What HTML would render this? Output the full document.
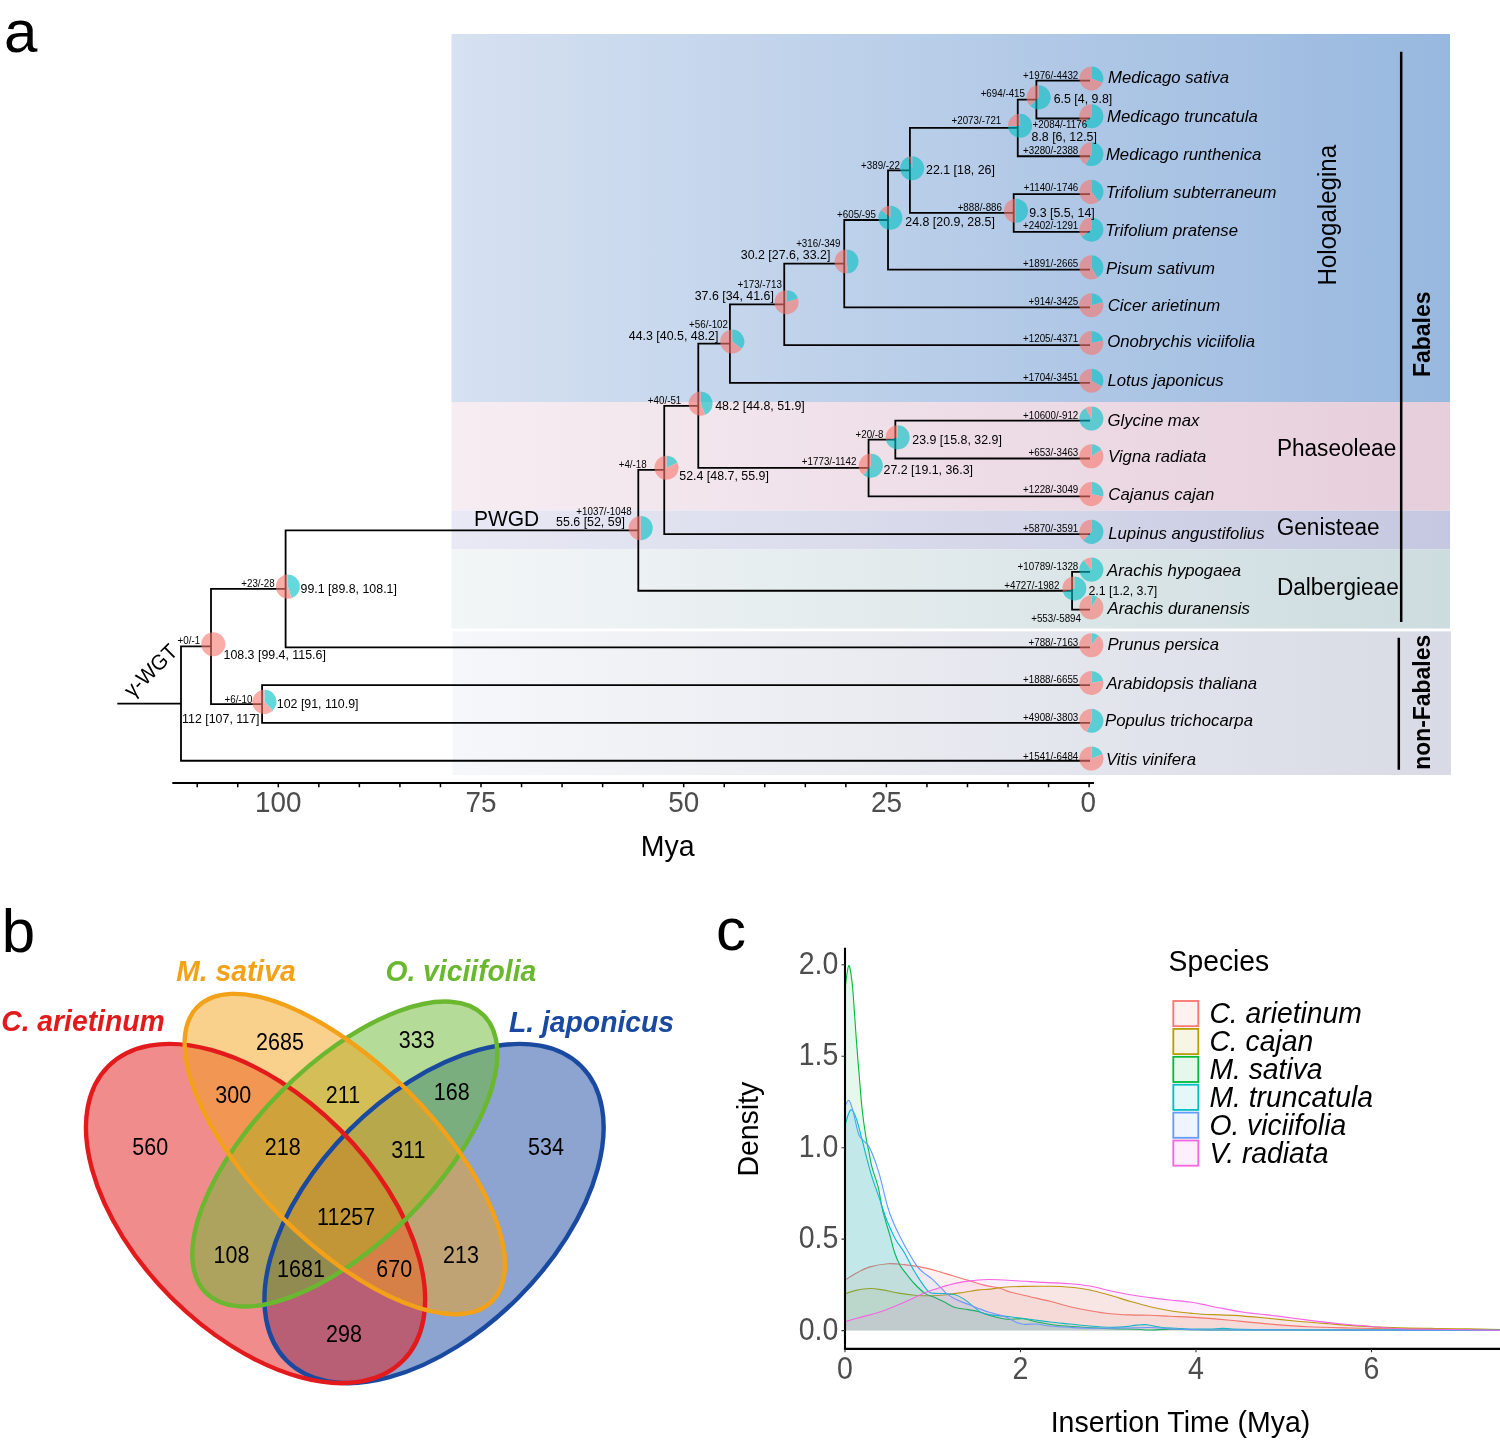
<!DOCTYPE html>
<html><head><meta charset="utf-8"><style>
html,body{margin:0;padding:0;background:#fff;width:1500px;height:1441px;overflow:hidden}
svg{display:block;font-family:"Liberation Sans", sans-serif;will-change:transform}
</style></head><body>
<svg width="1500" height="1441" viewBox="0 0 1500 1441">
<defs><linearGradient id="g0" x1="0" y1="0" x2="1" y2="0"><stop offset="0" stop-color="#d6e1f1"/><stop offset="1" stop-color="#98b8df"/></linearGradient><linearGradient id="g1" x1="0" y1="0" x2="1" y2="0"><stop offset="0" stop-color="#f6edf2"/><stop offset="1" stop-color="#e6cedb"/></linearGradient><linearGradient id="g2" x1="0" y1="0" x2="1" y2="0"><stop offset="0" stop-color="#e8e9f4"/><stop offset="1" stop-color="#c5c8e0"/></linearGradient><linearGradient id="g3" x1="0" y1="0" x2="1" y2="0"><stop offset="0" stop-color="#f3f6f7"/><stop offset="1" stop-color="#cddcdf"/></linearGradient><linearGradient id="g4" x1="0" y1="0" x2="1" y2="0"><stop offset="0" stop-color="#f6f7fa"/><stop offset="1" stop-color="#d8dbe5"/></linearGradient></defs>
<rect width="1500" height="1441" fill="#fff"/>
<rect x="451.5" y="34" width="998.5" height="368" fill="url(#g0)"/>
<rect x="451.5" y="402" width="998.5" height="108.5" fill="url(#g1)"/>
<rect x="451.5" y="510.5" width="998.5" height="39" fill="url(#g2)"/>
<rect x="451.5" y="549.5" width="998.5" height="79" fill="url(#g3)"/>
<rect x="452.5" y="631.3" width="998.5" height="143.7" fill="url(#g4)"/>
<path d="M1036.4 80.7V118.48M1036.4 80.7H1089.1M1036.4 118.48H1089.1M1017.75 99.59V156.26M1017.75 99.59H1036.4M1017.75 156.26H1089.1M1013.7 194.04V231.82M1013.7 194.04H1089.1M1013.7 231.82H1089.1M909.91 127.92V212.93M909.91 127.92H1017.75M909.91 212.93H1013.7M888.02 170.43V269.6M888.02 170.43H909.91M888.02 269.6H1089.1M844.24 220.01V307.38M844.24 220.01H888.02M844.24 307.38H1089.1M784.24 263.7V345.16M784.24 263.7H844.24M784.24 345.16H1089.1M729.92 304.43V382.94M729.92 304.43H784.24M729.92 382.94H1089.1M895.32 420.72V458.5M895.32 420.72H1089.1M895.32 458.5H1089.1M868.56 439.61V496.28M868.56 439.61H895.32M868.56 496.28H1089.1M698.29 343.68V467.95M698.29 343.68H729.92M698.29 467.95H868.56M664.24 405.81V534.06M664.24 405.81H698.29M664.24 534.06H1089.1M1072.07 571.84V609.62M1072.07 571.84H1089.1M1072.07 609.62H1089.1M638.3 469.94V590.73M638.3 469.94H664.24M638.3 590.73H1072.07M285.6 530.33V647.4M285.6 530.33H638.3M285.6 647.4H1089.1M262.08 685.18V722.96M262.08 685.18H1089.1M262.08 722.96H1089.1M211 588.87V704.07M211 588.87H285.6M211 704.07H262.08M181 646.47V760.74M181 646.47H211M181 760.74H1089.1M118.2 703.6H181" stroke="#000" stroke-width="1.8" stroke-linecap="square" fill="none"/>
<g opacity="0.6"><path d="M1091.4 78.5L1091.4 66.45A12.05 12.05 0 0 1 1102.65 82.82Z" fill="#00BFC4"/><path d="M1091.4 78.5L1102.65 82.82A12.05 12.05 0 1 1 1091.4 66.45Z" fill="#F8766D"/><path d="M1091.4 116.28L1091.4 104.23A12.05 12.05 0 1 1 1082.15 124Z" fill="#00BFC4"/><path d="M1091.4 116.28L1082.15 124A12.05 12.05 0 0 1 1091.4 104.23Z" fill="#F8766D"/><path d="M1091.4 154.06L1091.4 142.01A12.05 12.05 0 1 1 1085.68 164.67Z" fill="#00BFC4"/><path d="M1091.4 154.06L1085.68 164.67A12.05 12.05 0 0 1 1091.4 142.01Z" fill="#F8766D"/><path d="M1091.4 191.84L1091.4 179.79A12.05 12.05 0 0 1 1098.78 201.36Z" fill="#00BFC4"/><path d="M1091.4 191.84L1098.78 201.36A12.05 12.05 0 1 1 1091.4 179.79Z" fill="#F8766D"/><path d="M1091.4 229.62L1091.4 217.57A12.05 12.05 0 1 1 1081.63 236.68Z" fill="#00BFC4"/><path d="M1091.4 229.62L1081.63 236.68A12.05 12.05 0 0 1 1091.4 217.57Z" fill="#F8766D"/><path d="M1091.4 267.4L1091.4 255.35A12.05 12.05 0 0 1 1097.53 277.77Z" fill="#00BFC4"/><path d="M1091.4 267.4L1097.53 277.77A12.05 12.05 0 1 1 1091.4 255.35Z" fill="#F8766D"/><path d="M1091.4 305.18L1091.4 293.13A12.05 12.05 0 0 1 1103.08 302.23Z" fill="#00BFC4"/><path d="M1091.4 305.18L1103.08 302.23A12.05 12.05 0 1 1 1091.4 293.13Z" fill="#F8766D"/><path d="M1091.4 342.96L1091.4 330.91A12.05 12.05 0 0 1 1103.18 340.41Z" fill="#00BFC4"/><path d="M1091.4 342.96L1103.18 340.41A12.05 12.05 0 1 1 1091.4 330.91Z" fill="#F8766D"/><path d="M1091.4 380.74L1091.4 368.69A12.05 12.05 0 0 1 1101.94 386.58Z" fill="#00BFC4"/><path d="M1091.4 380.74L1101.94 386.58A12.05 12.05 0 1 1 1091.4 368.69Z" fill="#F8766D"/><path d="M1091.4 418.52L1091.4 406.47A12.05 12.05 0 1 1 1085.65 407.93Z" fill="#00BFC4"/><path d="M1091.4 418.52L1085.65 407.93A12.05 12.05 0 0 1 1091.4 406.47Z" fill="#F8766D"/><path d="M1091.4 456.3L1091.4 444.25A12.05 12.05 0 0 1 1101.52 449.76Z" fill="#00BFC4"/><path d="M1091.4 456.3L1101.52 449.76A12.05 12.05 0 1 1 1091.4 444.25Z" fill="#F8766D"/><path d="M1091.4 494.08L1091.4 482.03A12.05 12.05 0 0 1 1103.12 496.86Z" fill="#00BFC4"/><path d="M1091.4 494.08L1103.12 496.86A12.05 12.05 0 1 1 1091.4 482.03Z" fill="#F8766D"/><path d="M1091.4 531.86L1091.4 519.81A12.05 12.05 0 1 1 1083.13 540.62Z" fill="#00BFC4"/><path d="M1091.4 531.86L1083.13 540.62A12.05 12.05 0 0 1 1091.4 519.81Z" fill="#F8766D"/><path d="M1091.4 569.64L1091.4 557.59A12.05 12.05 0 1 1 1083.74 560.34Z" fill="#00BFC4"/><path d="M1091.4 569.64L1083.74 560.34A12.05 12.05 0 0 1 1091.4 557.59Z" fill="#F8766D"/><path d="M1091.4 607.42L1091.4 595.37A12.05 12.05 0 0 1 1097.58 597.08Z" fill="#00BFC4"/><path d="M1091.4 607.42L1097.58 597.08A12.05 12.05 0 1 1 1091.4 595.37Z" fill="#F8766D"/><path d="M1091.4 645.2L1091.4 633.15A12.05 12.05 0 0 1 1098.43 635.41Z" fill="#00BFC4"/><path d="M1091.4 645.2L1098.43 635.41A12.05 12.05 0 1 1 1091.4 633.15Z" fill="#F8766D"/><path d="M1091.4 682.98L1091.4 670.93A12.05 12.05 0 0 1 1103.25 680.8Z" fill="#00BFC4"/><path d="M1091.4 682.98L1103.25 680.8A12.05 12.05 0 1 1 1091.4 670.93Z" fill="#F8766D"/><path d="M1091.4 720.76L1091.4 708.71A12.05 12.05 0 1 1 1086.72 731.87Z" fill="#00BFC4"/><path d="M1091.4 720.76L1086.72 731.87A12.05 12.05 0 0 1 1091.4 708.71Z" fill="#F8766D"/><path d="M1091.4 758.54L1091.4 746.49A12.05 12.05 0 0 1 1102.66 754.25Z" fill="#00BFC4"/><path d="M1091.4 758.54L1102.66 754.25A12.05 12.05 0 1 1 1091.4 746.49Z" fill="#F8766D"/><path d="M1038.7 97.39L1038.7 85.34A12.05 12.05 0 1 1 1030.14 105.87Z" fill="#00BFC4"/><path d="M1038.7 97.39L1030.14 105.87A12.05 12.05 0 0 1 1038.7 85.34Z" fill="#F8766D"/><path d="M1020.05 125.72L1020.05 113.67A12.05 12.05 0 1 1 1008.02 126.33Z" fill="#00BFC4"/><path d="M1020.05 125.72L1008.02 126.33A12.05 12.05 0 0 1 1020.05 113.67Z" fill="#F8766D"/><path d="M1016 210.73L1016 198.68A12.05 12.05 0 1 1 1015.95 222.78Z" fill="#00BFC4"/><path d="M1016 210.73L1015.95 222.78A12.05 12.05 0 0 1 1016 198.68Z" fill="#F8766D"/><path d="M912.21 168.23L912.21 156.18A12.05 12.05 0 1 1 908.24 156.85Z" fill="#00BFC4"/><path d="M912.21 168.23L908.24 156.85A12.05 12.05 0 0 1 912.21 156.18Z" fill="#F8766D"/><path d="M890.32 217.81L890.32 205.76A12.05 12.05 0 1 1 881.25 209.89Z" fill="#00BFC4"/><path d="M890.32 217.81L881.25 209.89A12.05 12.05 0 0 1 890.32 205.76Z" fill="#F8766D"/><path d="M846.54 261.5L846.54 249.45A12.05 12.05 0 0 1 848.41 273.4Z" fill="#00BFC4"/><path d="M846.54 261.5L848.41 273.4A12.05 12.05 0 1 1 846.54 249.45Z" fill="#F8766D"/><path d="M786.54 302.23L786.54 290.18A12.05 12.05 0 0 1 797.88 298.17Z" fill="#00BFC4"/><path d="M786.54 302.23L797.88 298.17A12.05 12.05 0 1 1 786.54 290.18Z" fill="#F8766D"/><path d="M732.22 341.48L732.22 329.43A12.05 12.05 0 0 1 741.76 348.84Z" fill="#00BFC4"/><path d="M732.22 341.48L741.76 348.84A12.05 12.05 0 1 1 732.22 329.43Z" fill="#F8766D"/><path d="M897.62 437.41L897.62 425.36A12.05 12.05 0 1 1 885.87 440.09Z" fill="#00BFC4"/><path d="M897.62 437.41L885.87 440.09A12.05 12.05 0 0 1 897.62 425.36Z" fill="#F8766D"/><path d="M870.86 465.75L870.86 453.7A12.05 12.05 0 1 1 863.28 475.11Z" fill="#00BFC4"/><path d="M870.86 465.75L863.28 475.11A12.05 12.05 0 0 1 870.86 453.7Z" fill="#F8766D"/><path d="M700.59 403.61L700.59 391.56A12.05 12.05 0 0 1 705.06 414.81Z" fill="#00BFC4"/><path d="M700.59 403.61L705.06 414.81A12.05 12.05 0 1 1 700.59 391.56Z" fill="#F8766D"/><path d="M666.54 467.74L666.54 455.69A12.05 12.05 0 0 1 677.5 462.73Z" fill="#00BFC4"/><path d="M666.54 467.74L677.5 462.73A12.05 12.05 0 1 1 666.54 455.69Z" fill="#F8766D"/><path d="M1074.37 588.53L1074.37 576.48A12.05 12.05 0 1 1 1062.81 591.92Z" fill="#00BFC4"/><path d="M1074.37 588.53L1062.81 591.92A12.05 12.05 0 0 1 1074.37 576.48Z" fill="#F8766D"/><path d="M640.6 528.13L640.6 516.08A12.05 12.05 0 0 1 640.79 540.18Z" fill="#00BFC4"/><path d="M640.6 528.13L640.79 540.18A12.05 12.05 0 1 1 640.6 516.08Z" fill="#F8766D"/><path d="M287.9 586.67L287.9 574.62A12.05 12.05 0 0 1 291.55 598.15Z" fill="#00BFC4"/><path d="M287.9 586.67L291.55 598.15A12.05 12.05 0 1 1 287.9 574.62Z" fill="#F8766D"/><path d="M264.38 701.87L264.38 689.82A12.05 12.05 0 0 1 272.9 710.39Z" fill="#00BFC4"/><path d="M264.38 701.87L272.9 710.39A12.05 12.05 0 1 1 264.38 689.82Z" fill="#F8766D"/><circle cx="213.3" cy="644.27" r="12.05" fill="#F8766D"/></g>
<path d="M1401.2 51.7V622M1398.8 637.7V769.8" stroke="#000" stroke-width="2.5" fill="none"/>
<path d="M172.3 783H1094" stroke="#000" stroke-width="2.1" fill="none"/>
<path d="M1089.1 783V787.3M1048.56 783V787.3M1008.02 783V787.3M967.48 783V787.3M926.94 783V787.3M886.4 783V787.3M845.86 783V787.3M805.32 783V787.3M764.78 783V787.3M724.24 783V787.3M683.7 783V787.3M643.16 783V787.3M602.62 783V787.3M562.08 783V787.3M521.54 783V787.3M481 783V787.3M440.46 783V787.3M399.92 783V787.3M359.38 783V787.3M318.84 783V787.3M278.3 783V787.3M237.76 783V787.3M197.22 783V787.3" stroke="#000" stroke-width="1.5" fill="none"/>
<ellipse cx="434.05" cy="1213.55" rx="208.25" ry="119" transform="rotate(-45 434.05 1213.55)" fill="#1A4AA0" fill-opacity="0.5"/>
<ellipse cx="255.55" cy="1213.55" rx="208.25" ry="119" transform="rotate(-135 255.55 1213.55)" fill="#E31A1C" fill-opacity="0.5"/>
<ellipse cx="344.8" cy="1154.05" rx="196.35" ry="89.25" transform="rotate(-45 344.8 1154.05)" fill="#6AB730" fill-opacity="0.5"/>
<ellipse cx="344.8" cy="1154.05" rx="208.25" ry="89.25" transform="rotate(-135 344.8 1154.05)" fill="#F3A119" fill-opacity="0.5"/>
<ellipse cx="434.05" cy="1213.55" rx="208.25" ry="119" transform="rotate(-45 434.05 1213.55)" fill="none" stroke="#1A4AA0" stroke-width="4.4"/>
<ellipse cx="255.55" cy="1213.55" rx="208.25" ry="119" transform="rotate(-135 255.55 1213.55)" fill="none" stroke="#E31A1C" stroke-width="4.4"/>
<ellipse cx="344.8" cy="1154.05" rx="196.35" ry="89.25" transform="rotate(-45 344.8 1154.05)" fill="none" stroke="#6AB730" stroke-width="4.4"/>
<ellipse cx="344.8" cy="1154.05" rx="208.25" ry="89.25" transform="rotate(-135 344.8 1154.05)" fill="none" stroke="#F3A119" stroke-width="4.4"/>
<clipPath id="dclip"><rect x="845" y="900" width="655" height="431"/></clipPath>
<g clip-path="url(#dclip)"><path d="M845 1280.2C846.83 1279.05 851.85 1275.52 856 1273.3C860.15 1271.08 864.57 1268.5 869.9 1266.9C875.23 1265.3 882.32 1264.08 888 1263.7C893.68 1263.32 898.67 1264.07 904 1264.6C909.33 1265.13 914.67 1265.88 920 1266.9C925.33 1267.92 930.67 1269.27 936 1270.7C941.33 1272.13 946.67 1273.9 952 1275.5C957.33 1277.1 962.67 1278.7 968 1280.3C973.33 1281.9 978.67 1283.77 984 1285.1C989.33 1286.43 995.67 1287.15 1000 1288.3C1004.33 1289.45 1005 1290.6 1010 1292C1015 1293.4 1023.33 1295.15 1030 1296.7C1036.67 1298.25 1043.33 1299.63 1050 1301.3C1056.67 1302.97 1063.33 1305.13 1070 1306.7C1076.67 1308.27 1083.33 1309.53 1090 1310.7C1096.67 1311.87 1103.33 1313 1110 1313.7C1116.67 1314.4 1123.33 1314.63 1130 1314.9C1136.67 1315.17 1143.33 1315.07 1150 1315.3C1156.67 1315.53 1163.33 1316 1170 1316.3C1176.67 1316.6 1183 1316.72 1190 1317.1C1197 1317.48 1203 1317.85 1212 1318.6C1221 1319.35 1233.33 1320.6 1244 1321.6C1254.67 1322.6 1265.33 1323.75 1276 1324.6C1286.67 1325.45 1295.55 1326.13 1308 1326.7C1320.45 1327.27 1336.48 1327.63 1350.7 1328C1364.92 1328.37 1379.08 1328.65 1393.3 1328.9C1407.52 1329.15 1418.22 1329.32 1436 1329.5C1453.78 1329.68 1489.33 1329.92 1500 1330L1500 1330.6L845 1330.6Z" fill="#F8766D" fill-opacity="0.1"/><path d="M845 1280.2C846.83 1279.05 851.85 1275.52 856 1273.3C860.15 1271.08 864.57 1268.5 869.9 1266.9C875.23 1265.3 882.32 1264.08 888 1263.7C893.68 1263.32 898.67 1264.07 904 1264.6C909.33 1265.13 914.67 1265.88 920 1266.9C925.33 1267.92 930.67 1269.27 936 1270.7C941.33 1272.13 946.67 1273.9 952 1275.5C957.33 1277.1 962.67 1278.7 968 1280.3C973.33 1281.9 978.67 1283.77 984 1285.1C989.33 1286.43 995.67 1287.15 1000 1288.3C1004.33 1289.45 1005 1290.6 1010 1292C1015 1293.4 1023.33 1295.15 1030 1296.7C1036.67 1298.25 1043.33 1299.63 1050 1301.3C1056.67 1302.97 1063.33 1305.13 1070 1306.7C1076.67 1308.27 1083.33 1309.53 1090 1310.7C1096.67 1311.87 1103.33 1313 1110 1313.7C1116.67 1314.4 1123.33 1314.63 1130 1314.9C1136.67 1315.17 1143.33 1315.07 1150 1315.3C1156.67 1315.53 1163.33 1316 1170 1316.3C1176.67 1316.6 1183 1316.72 1190 1317.1C1197 1317.48 1203 1317.85 1212 1318.6C1221 1319.35 1233.33 1320.6 1244 1321.6C1254.67 1322.6 1265.33 1323.75 1276 1324.6C1286.67 1325.45 1295.55 1326.13 1308 1326.7C1320.45 1327.27 1336.48 1327.63 1350.7 1328C1364.92 1328.37 1379.08 1328.65 1393.3 1328.9C1407.52 1329.15 1418.22 1329.32 1436 1329.5C1453.78 1329.68 1489.33 1329.92 1500 1330" fill="none" stroke="#F8766D" stroke-width="1.1"/><path d="M845 1293.8C846.83 1293.23 851.85 1291.28 856 1290.4C860.15 1289.52 865.45 1288.58 869.9 1288.5C874.35 1288.42 877.9 1289.13 882.7 1289.9C887.5 1290.67 893.37 1292.22 898.7 1293.1C904.03 1293.98 909.37 1294.77 914.7 1295.2C920.03 1295.63 925.37 1295.78 930.7 1295.7C936.03 1295.62 941.37 1295.23 946.7 1294.7C952.03 1294.17 957.37 1293.3 962.7 1292.5C968.03 1291.7 974.15 1290.47 978.7 1289.9C983.25 1289.33 985.9 1289.53 990 1289.1C994.1 1288.67 997.75 1287.75 1003.3 1287.3C1008.85 1286.85 1015.52 1286.57 1023.3 1286.4C1031.08 1286.23 1042.22 1286.15 1050 1286.3C1057.78 1286.45 1063.33 1286.68 1070 1287.3C1076.67 1287.92 1083.33 1288.67 1090 1290C1096.67 1291.33 1103.33 1293.42 1110 1295.3C1116.67 1297.18 1123.33 1299.4 1130 1301.3C1136.67 1303.2 1143.33 1305.13 1150 1306.7C1156.67 1308.27 1163.33 1309.63 1170 1310.7C1176.67 1311.77 1184.78 1312.52 1190 1313.1C1195.22 1313.68 1194.08 1313.82 1201.3 1314.2C1208.52 1314.58 1222.63 1314.77 1233.3 1315.4C1243.97 1316.03 1254.63 1317.03 1265.3 1318C1275.97 1318.97 1286.63 1320.23 1297.3 1321.2C1307.97 1322.17 1318.63 1322.98 1329.3 1323.8C1339.97 1324.62 1350.63 1325.47 1361.3 1326.1C1371.97 1326.73 1380.85 1327.2 1393.3 1327.6C1405.75 1328 1423.55 1328.28 1436 1328.5C1448.45 1328.72 1457.33 1328.73 1468 1328.9C1478.67 1329.07 1494.67 1329.4 1500 1329.5L1500 1330.6L845 1330.6Z" fill="#B79F00" fill-opacity="0.1"/><path d="M845 1293.8C846.83 1293.23 851.85 1291.28 856 1290.4C860.15 1289.52 865.45 1288.58 869.9 1288.5C874.35 1288.42 877.9 1289.13 882.7 1289.9C887.5 1290.67 893.37 1292.22 898.7 1293.1C904.03 1293.98 909.37 1294.77 914.7 1295.2C920.03 1295.63 925.37 1295.78 930.7 1295.7C936.03 1295.62 941.37 1295.23 946.7 1294.7C952.03 1294.17 957.37 1293.3 962.7 1292.5C968.03 1291.7 974.15 1290.47 978.7 1289.9C983.25 1289.33 985.9 1289.53 990 1289.1C994.1 1288.67 997.75 1287.75 1003.3 1287.3C1008.85 1286.85 1015.52 1286.57 1023.3 1286.4C1031.08 1286.23 1042.22 1286.15 1050 1286.3C1057.78 1286.45 1063.33 1286.68 1070 1287.3C1076.67 1287.92 1083.33 1288.67 1090 1290C1096.67 1291.33 1103.33 1293.42 1110 1295.3C1116.67 1297.18 1123.33 1299.4 1130 1301.3C1136.67 1303.2 1143.33 1305.13 1150 1306.7C1156.67 1308.27 1163.33 1309.63 1170 1310.7C1176.67 1311.77 1184.78 1312.52 1190 1313.1C1195.22 1313.68 1194.08 1313.82 1201.3 1314.2C1208.52 1314.58 1222.63 1314.77 1233.3 1315.4C1243.97 1316.03 1254.63 1317.03 1265.3 1318C1275.97 1318.97 1286.63 1320.23 1297.3 1321.2C1307.97 1322.17 1318.63 1322.98 1329.3 1323.8C1339.97 1324.62 1350.63 1325.47 1361.3 1326.1C1371.97 1326.73 1380.85 1327.2 1393.3 1327.6C1405.75 1328 1423.55 1328.28 1436 1328.5C1448.45 1328.72 1457.33 1328.73 1468 1328.9C1478.67 1329.07 1494.67 1329.4 1500 1329.5" fill="none" stroke="#B79F00" stroke-width="1.1"/><path d="M845 988.9C845.62 985.02 847.5 966.53 848.7 965.6C849.9 964.67 851.25 975.53 852.2 983.3C853.15 991.07 853.65 1002.02 854.4 1012.2C855.15 1022.38 855.87 1033.47 856.7 1044.4C857.53 1055.33 858.48 1066.87 859.4 1077.8C860.32 1088.73 861.07 1099.87 862.2 1110C863.33 1120.13 865.13 1131.9 866.2 1138.6C867.27 1145.3 867.62 1145.35 868.6 1150.2C869.58 1155.05 870.5 1161.53 872.1 1167.7C873.7 1173.87 876.58 1180.72 878.2 1187.2C879.82 1193.68 880.62 1201.13 881.8 1206.6C882.98 1212.07 883.92 1215.1 885.3 1220C886.68 1224.9 888.58 1230.67 890.1 1236C891.62 1241.33 892.8 1247.2 894.4 1252C896 1256.8 897.92 1261.42 899.7 1264.8C901.48 1268.18 902.6 1269.1 905.1 1272.3C907.6 1275.5 911.33 1280.45 914.7 1284C918.07 1287.55 921.75 1291.28 925.3 1293.6C928.85 1295.92 932.8 1296.48 936 1297.9C939.2 1299.32 941.3 1300.5 944.5 1302.1C947.7 1303.7 951.28 1306.25 955.2 1307.5C959.12 1308.75 964.08 1308.9 968 1309.6C971.92 1310.3 974.78 1310.63 978.7 1311.7C982.62 1312.77 987.4 1314.83 991.5 1316C995.6 1317.17 1000.22 1318.15 1003.3 1318.7C1006.38 1319.25 1006.67 1319.3 1010 1319.3C1013.33 1319.3 1018.85 1318.25 1023.3 1318.7C1027.75 1319.15 1031.13 1320.9 1036.7 1322C1042.27 1323.1 1048.93 1324.42 1056.7 1325.3C1064.47 1326.18 1074.42 1326.73 1083.3 1327.3C1092.18 1327.87 1101.1 1328.37 1110 1328.7C1118.9 1329.03 1130.03 1329.08 1136.7 1329.3C1143.37 1329.52 1144.45 1330.03 1150 1330C1155.55 1329.97 1163.33 1329.17 1170 1329.1C1176.67 1329.03 1176.67 1329.45 1190 1329.6C1203.33 1329.75 1198.33 1329.88 1250 1330C1301.67 1330.12 1458.33 1330.25 1500 1330.3L1500 1330.6L845 1330.6Z" fill="#00BA38" fill-opacity="0.1"/><path d="M845 988.9C845.62 985.02 847.5 966.53 848.7 965.6C849.9 964.67 851.25 975.53 852.2 983.3C853.15 991.07 853.65 1002.02 854.4 1012.2C855.15 1022.38 855.87 1033.47 856.7 1044.4C857.53 1055.33 858.48 1066.87 859.4 1077.8C860.32 1088.73 861.07 1099.87 862.2 1110C863.33 1120.13 865.13 1131.9 866.2 1138.6C867.27 1145.3 867.62 1145.35 868.6 1150.2C869.58 1155.05 870.5 1161.53 872.1 1167.7C873.7 1173.87 876.58 1180.72 878.2 1187.2C879.82 1193.68 880.62 1201.13 881.8 1206.6C882.98 1212.07 883.92 1215.1 885.3 1220C886.68 1224.9 888.58 1230.67 890.1 1236C891.62 1241.33 892.8 1247.2 894.4 1252C896 1256.8 897.92 1261.42 899.7 1264.8C901.48 1268.18 902.6 1269.1 905.1 1272.3C907.6 1275.5 911.33 1280.45 914.7 1284C918.07 1287.55 921.75 1291.28 925.3 1293.6C928.85 1295.92 932.8 1296.48 936 1297.9C939.2 1299.32 941.3 1300.5 944.5 1302.1C947.7 1303.7 951.28 1306.25 955.2 1307.5C959.12 1308.75 964.08 1308.9 968 1309.6C971.92 1310.3 974.78 1310.63 978.7 1311.7C982.62 1312.77 987.4 1314.83 991.5 1316C995.6 1317.17 1000.22 1318.15 1003.3 1318.7C1006.38 1319.25 1006.67 1319.3 1010 1319.3C1013.33 1319.3 1018.85 1318.25 1023.3 1318.7C1027.75 1319.15 1031.13 1320.9 1036.7 1322C1042.27 1323.1 1048.93 1324.42 1056.7 1325.3C1064.47 1326.18 1074.42 1326.73 1083.3 1327.3C1092.18 1327.87 1101.1 1328.37 1110 1328.7C1118.9 1329.03 1130.03 1329.08 1136.7 1329.3C1143.37 1329.52 1144.45 1330.03 1150 1330C1155.55 1329.97 1163.33 1329.17 1170 1329.1C1176.67 1329.03 1176.67 1329.45 1190 1329.6C1203.33 1329.75 1198.33 1329.88 1250 1330C1301.67 1330.12 1458.33 1330.25 1500 1330.3" fill="none" stroke="#00BA38" stroke-width="1.1"/><path d="M845 1125.5C845.58 1123.58 847.38 1116.6 848.5 1114C849.62 1111.4 850.37 1109.05 851.7 1109.9C853.03 1110.75 854.73 1114 856.5 1119.1C858.27 1124.2 860.68 1134.35 862.3 1140.5C863.92 1146.65 864.57 1149.85 866.2 1156C867.83 1162.15 869.98 1170.58 872.1 1177.4C874.22 1184.22 876.97 1191.23 878.9 1196.9C880.83 1202.57 882.27 1207.22 883.7 1211.4C885.13 1215.58 885.53 1217.37 887.5 1222C889.47 1226.63 892.75 1234.2 895.5 1239.2C898.25 1244.2 901.17 1247.2 904 1252C906.83 1256.8 909.65 1263.02 912.5 1268C915.35 1272.98 918.43 1277.98 921.1 1281.9C923.77 1285.82 926.37 1289.58 928.5 1291.5C930.63 1293.42 930.87 1293.05 933.9 1293.4C936.93 1293.75 943.15 1293.38 946.7 1293.6C950.25 1293.82 952.37 1293.82 955.2 1294.7C958.03 1295.58 960.68 1296.95 963.7 1298.9C966.72 1300.85 970.27 1304.08 973.3 1306.4C976.33 1308.72 978.87 1311.38 981.9 1312.8C984.93 1314.22 986.82 1314.25 991.5 1314.9C996.18 1315.55 1003.58 1315.97 1010 1316.7C1016.42 1317.43 1023.33 1318.42 1030 1319.3C1036.67 1320.18 1043.33 1321.22 1050 1322C1056.67 1322.78 1063.33 1323.33 1070 1324C1076.67 1324.67 1083.33 1325.45 1090 1326C1096.67 1326.55 1104.45 1327.15 1110 1327.3C1115.55 1327.45 1118.85 1327.27 1123.3 1326.9C1127.75 1326.53 1132.7 1325.47 1136.7 1325.1C1140.7 1324.73 1143.3 1324.33 1147.3 1324.7C1151.3 1325.07 1155.8 1326.7 1160.7 1327.3C1165.6 1327.9 1171.82 1328 1176.7 1328.3C1181.58 1328.6 1184.45 1328.98 1190 1329.1C1195.55 1329.22 1204.55 1329.12 1210 1329C1215.45 1328.88 1217.7 1328.35 1222.7 1328.4C1227.7 1328.45 1227.12 1329.07 1240 1329.3C1252.88 1329.53 1256.67 1329.63 1300 1329.8C1343.33 1329.97 1466.67 1330.22 1500 1330.3L1500 1330.6L845 1330.6Z" fill="#00BFC4" fill-opacity="0.1"/><path d="M845 1125.5C845.58 1123.58 847.38 1116.6 848.5 1114C849.62 1111.4 850.37 1109.05 851.7 1109.9C853.03 1110.75 854.73 1114 856.5 1119.1C858.27 1124.2 860.68 1134.35 862.3 1140.5C863.92 1146.65 864.57 1149.85 866.2 1156C867.83 1162.15 869.98 1170.58 872.1 1177.4C874.22 1184.22 876.97 1191.23 878.9 1196.9C880.83 1202.57 882.27 1207.22 883.7 1211.4C885.13 1215.58 885.53 1217.37 887.5 1222C889.47 1226.63 892.75 1234.2 895.5 1239.2C898.25 1244.2 901.17 1247.2 904 1252C906.83 1256.8 909.65 1263.02 912.5 1268C915.35 1272.98 918.43 1277.98 921.1 1281.9C923.77 1285.82 926.37 1289.58 928.5 1291.5C930.63 1293.42 930.87 1293.05 933.9 1293.4C936.93 1293.75 943.15 1293.38 946.7 1293.6C950.25 1293.82 952.37 1293.82 955.2 1294.7C958.03 1295.58 960.68 1296.95 963.7 1298.9C966.72 1300.85 970.27 1304.08 973.3 1306.4C976.33 1308.72 978.87 1311.38 981.9 1312.8C984.93 1314.22 986.82 1314.25 991.5 1314.9C996.18 1315.55 1003.58 1315.97 1010 1316.7C1016.42 1317.43 1023.33 1318.42 1030 1319.3C1036.67 1320.18 1043.33 1321.22 1050 1322C1056.67 1322.78 1063.33 1323.33 1070 1324C1076.67 1324.67 1083.33 1325.45 1090 1326C1096.67 1326.55 1104.45 1327.15 1110 1327.3C1115.55 1327.45 1118.85 1327.27 1123.3 1326.9C1127.75 1326.53 1132.7 1325.47 1136.7 1325.1C1140.7 1324.73 1143.3 1324.33 1147.3 1324.7C1151.3 1325.07 1155.8 1326.7 1160.7 1327.3C1165.6 1327.9 1171.82 1328 1176.7 1328.3C1181.58 1328.6 1184.45 1328.98 1190 1329.1C1195.55 1329.22 1204.55 1329.12 1210 1329C1215.45 1328.88 1217.7 1328.35 1222.7 1328.4C1227.7 1328.45 1227.12 1329.07 1240 1329.3C1252.88 1329.53 1256.67 1329.63 1300 1329.8C1343.33 1329.97 1466.67 1330.22 1500 1330.3" fill="none" stroke="#00BFC4" stroke-width="1.1"/><path d="M845 1106.5C845.62 1105.45 847.43 1099.72 848.7 1100.2C849.97 1100.68 850.97 1103.82 852.6 1109.4C854.23 1114.98 856.72 1128.52 858.5 1133.7C860.28 1138.88 861.68 1138.55 863.3 1140.5C864.92 1142.45 866.42 1142.48 868.2 1145.4C869.98 1148.32 872.22 1153.47 874 1158C875.78 1162.53 877.45 1167.73 878.9 1172.6C880.35 1177.47 881.25 1181.53 882.7 1187.2C884.15 1192.87 886 1201.13 887.6 1206.6C889.2 1212.07 890.28 1215.1 892.3 1220C894.32 1224.9 897.03 1230.67 899.7 1236C902.37 1241.33 905.45 1247.02 908.3 1252C911.15 1256.98 914.32 1262.52 916.8 1265.9C919.28 1269.28 920.72 1270.17 923.2 1272.3C925.68 1274.43 928.85 1276.22 931.7 1278.7C934.55 1281.18 937.8 1284.72 940.3 1287.2C942.8 1289.68 944.22 1291.65 946.7 1293.6C949.18 1295.55 951.65 1297.12 955.2 1298.9C958.75 1300.68 964.08 1302.7 968 1304.3C971.92 1305.9 975.15 1307.17 978.7 1308.5C982.25 1309.83 985.2 1311.05 989.3 1312.3C993.4 1313.55 998.73 1314.32 1003.3 1316C1007.87 1317.68 1013.37 1321.02 1016.7 1322.4C1020.03 1323.78 1019.97 1324.03 1023.3 1324.3C1026.63 1324.57 1032.25 1323.72 1036.7 1324C1041.15 1324.28 1044.45 1325.45 1050 1326C1055.55 1326.55 1062.22 1326.92 1070 1327.3C1077.78 1327.68 1087.82 1328.18 1096.7 1328.3C1105.58 1328.42 1114.42 1328.13 1123.3 1328C1132.18 1327.87 1142.22 1327.38 1150 1327.5C1157.78 1327.62 1163.33 1328.35 1170 1328.7C1176.67 1329.05 1176.67 1329.38 1190 1329.6C1203.33 1329.82 1198.33 1329.88 1250 1330C1301.67 1330.12 1458.33 1330.25 1500 1330.3L1500 1330.6L845 1330.6Z" fill="#619CFF" fill-opacity="0.1"/><path d="M845 1106.5C845.62 1105.45 847.43 1099.72 848.7 1100.2C849.97 1100.68 850.97 1103.82 852.6 1109.4C854.23 1114.98 856.72 1128.52 858.5 1133.7C860.28 1138.88 861.68 1138.55 863.3 1140.5C864.92 1142.45 866.42 1142.48 868.2 1145.4C869.98 1148.32 872.22 1153.47 874 1158C875.78 1162.53 877.45 1167.73 878.9 1172.6C880.35 1177.47 881.25 1181.53 882.7 1187.2C884.15 1192.87 886 1201.13 887.6 1206.6C889.2 1212.07 890.28 1215.1 892.3 1220C894.32 1224.9 897.03 1230.67 899.7 1236C902.37 1241.33 905.45 1247.02 908.3 1252C911.15 1256.98 914.32 1262.52 916.8 1265.9C919.28 1269.28 920.72 1270.17 923.2 1272.3C925.68 1274.43 928.85 1276.22 931.7 1278.7C934.55 1281.18 937.8 1284.72 940.3 1287.2C942.8 1289.68 944.22 1291.65 946.7 1293.6C949.18 1295.55 951.65 1297.12 955.2 1298.9C958.75 1300.68 964.08 1302.7 968 1304.3C971.92 1305.9 975.15 1307.17 978.7 1308.5C982.25 1309.83 985.2 1311.05 989.3 1312.3C993.4 1313.55 998.73 1314.32 1003.3 1316C1007.87 1317.68 1013.37 1321.02 1016.7 1322.4C1020.03 1323.78 1019.97 1324.03 1023.3 1324.3C1026.63 1324.57 1032.25 1323.72 1036.7 1324C1041.15 1324.28 1044.45 1325.45 1050 1326C1055.55 1326.55 1062.22 1326.92 1070 1327.3C1077.78 1327.68 1087.82 1328.18 1096.7 1328.3C1105.58 1328.42 1114.42 1328.13 1123.3 1328C1132.18 1327.87 1142.22 1327.38 1150 1327.5C1157.78 1327.62 1163.33 1328.35 1170 1328.7C1176.67 1329.05 1176.67 1329.38 1190 1329.6C1203.33 1329.82 1198.33 1329.88 1250 1330C1301.67 1330.12 1458.33 1330.25 1500 1330.3" fill="none" stroke="#619CFF" stroke-width="1.1"/><path d="M845 1321.6C847.72 1320.85 855.92 1318.57 861.3 1317.1C866.68 1315.63 871.97 1314.5 877.3 1312.8C882.63 1311.1 887.97 1309.03 893.3 1306.9C898.63 1304.77 903.97 1302.4 909.3 1300C914.63 1297.6 919.97 1294.63 925.3 1292.5C930.63 1290.37 935.97 1288.8 941.3 1287.2C946.63 1285.6 951.97 1284 957.3 1282.9C962.63 1281.8 967.97 1281.17 973.3 1280.6C978.63 1280.03 982.07 1279.48 989.3 1279.5C996.53 1279.52 1007.7 1280.22 1016.7 1280.7C1025.7 1281.18 1034.42 1281.9 1043.3 1282.4C1052.18 1282.9 1062.22 1283.1 1070 1283.7C1077.78 1284.3 1083.33 1284.83 1090 1286C1096.67 1287.17 1103.33 1289.25 1110 1290.7C1116.67 1292.15 1123.33 1293.55 1130 1294.7C1136.67 1295.85 1143.33 1296.72 1150 1297.6C1156.67 1298.48 1163.33 1299.27 1170 1300C1176.67 1300.73 1184.78 1301.32 1190 1302C1195.22 1302.68 1195.85 1303.03 1201.3 1304.1C1206.75 1305.17 1215.58 1307.05 1222.7 1308.4C1229.82 1309.75 1235.12 1310.95 1244 1312.2C1252.88 1313.45 1265.33 1314.58 1276 1315.9C1286.67 1317.22 1297.33 1318.78 1308 1320.1C1318.67 1321.42 1329.33 1322.73 1340 1323.8C1350.67 1324.87 1361.33 1325.68 1372 1326.5C1382.67 1327.32 1393.33 1328.23 1404 1328.7C1414.67 1329.17 1420 1329.05 1436 1329.3C1452 1329.55 1489.33 1330.05 1500 1330.2L1500 1330.6L845 1330.6Z" fill="#F564E3" fill-opacity="0.1"/><path d="M845 1321.6C847.72 1320.85 855.92 1318.57 861.3 1317.1C866.68 1315.63 871.97 1314.5 877.3 1312.8C882.63 1311.1 887.97 1309.03 893.3 1306.9C898.63 1304.77 903.97 1302.4 909.3 1300C914.63 1297.6 919.97 1294.63 925.3 1292.5C930.63 1290.37 935.97 1288.8 941.3 1287.2C946.63 1285.6 951.97 1284 957.3 1282.9C962.63 1281.8 967.97 1281.17 973.3 1280.6C978.63 1280.03 982.07 1279.48 989.3 1279.5C996.53 1279.52 1007.7 1280.22 1016.7 1280.7C1025.7 1281.18 1034.42 1281.9 1043.3 1282.4C1052.18 1282.9 1062.22 1283.1 1070 1283.7C1077.78 1284.3 1083.33 1284.83 1090 1286C1096.67 1287.17 1103.33 1289.25 1110 1290.7C1116.67 1292.15 1123.33 1293.55 1130 1294.7C1136.67 1295.85 1143.33 1296.72 1150 1297.6C1156.67 1298.48 1163.33 1299.27 1170 1300C1176.67 1300.73 1184.78 1301.32 1190 1302C1195.22 1302.68 1195.85 1303.03 1201.3 1304.1C1206.75 1305.17 1215.58 1307.05 1222.7 1308.4C1229.82 1309.75 1235.12 1310.95 1244 1312.2C1252.88 1313.45 1265.33 1314.58 1276 1315.9C1286.67 1317.22 1297.33 1318.78 1308 1320.1C1318.67 1321.42 1329.33 1322.73 1340 1323.8C1350.67 1324.87 1361.33 1325.68 1372 1326.5C1382.67 1327.32 1393.33 1328.23 1404 1328.7C1414.67 1329.17 1420 1329.05 1436 1329.3C1452 1329.55 1489.33 1330.05 1500 1330.2" fill="none" stroke="#F564E3" stroke-width="1.1"/></g>
<path d="M845 947.7V1350M843.9 1348.9H1500" stroke="#000" stroke-width="2.1" fill="none"/>
<path d="M841.5 1330.6H845M841.5 1239.15H845M841.5 1147.7H845M841.5 1056.25H845M841.5 964.8H845M845 1348.9V1352.2M1020.5 1348.9V1352.2M1196 1348.9V1352.2M1371.5 1348.9V1352.2" stroke="#333" stroke-width="1.1" fill="none"/>
<rect x="1173.3" y="1001" width="25" height="25.2" fill="#F8766D" fill-opacity="0.1" stroke="#F8766D" stroke-width="1.8"/>
<rect x="1173.3" y="1028.9" width="25" height="25.2" fill="#B79F00" fill-opacity="0.1" stroke="#B79F00" stroke-width="1.8"/>
<rect x="1173.3" y="1056.8" width="25" height="25.2" fill="#00BA38" fill-opacity="0.1" stroke="#00BA38" stroke-width="1.8"/>
<rect x="1173.3" y="1084.7" width="25" height="25.2" fill="#00BFC4" fill-opacity="0.1" stroke="#00BFC4" stroke-width="1.8"/>
<rect x="1173.3" y="1112.6" width="25" height="25.2" fill="#619CFF" fill-opacity="0.1" stroke="#619CFF" stroke-width="1.8"/>
<rect x="1173.3" y="1140.5" width="25" height="25.2" fill="#F564E3" fill-opacity="0.1" stroke="#F564E3" stroke-width="1.8"/>
<g font-family='"Liberation Sans", sans-serif'><text transform="translate(1108 83.1) scale(1 1.04)" style="font-size:16.75px;font-style:italic">Medicago sativa</text><text transform="translate(1078.3 78.9) scale(1 1.08)" text-anchor="end" style="font-size:9.8px">+1976/-4432</text><text transform="translate(1107 121.5) scale(1 1.04)" style="font-size:16.75px;font-style:italic">Medicago truncatula</text><text transform="translate(1032.6 128) scale(1 1.08)" style="font-size:9.8px">+2084/-1176</text><text transform="translate(1105.9 160.3) scale(1 1.04)" style="font-size:16.75px;font-style:italic">Medicago runthenica</text><text transform="translate(1078.3 153.76) scale(1 1.08)" text-anchor="end" style="font-size:9.8px">+3280/-2388</text><text transform="translate(1105.7 197.8) scale(1 1.04)" style="font-size:16.75px;font-style:italic">Trifolium subterraneum</text><text transform="translate(1078.3 191.14) scale(1 1.08)" text-anchor="end" style="font-size:9.8px">+1140/-1746</text><text transform="translate(1105.3 236.1) scale(1 1.04)" style="font-size:16.75px;font-style:italic">Trifolium pratense</text><text transform="translate(1078.3 229.22) scale(1 1.08)" text-anchor="end" style="font-size:9.8px">+2402/-1291</text><text transform="translate(1106.1 273.5) scale(1 1.04)" style="font-size:16.75px;font-style:italic">Pisum sativum</text><text transform="translate(1078.3 266.9) scale(1 1.08)" text-anchor="end" style="font-size:9.8px">+1891/-2665</text><text transform="translate(1107.7 310.5) scale(1 1.04)" style="font-size:16.75px;font-style:italic">Cicer arietinum</text><text transform="translate(1078.3 304.78) scale(1 1.08)" text-anchor="end" style="font-size:9.8px">+914/-3425</text><text transform="translate(1107.2 347.3) scale(1 1.04)" style="font-size:16.75px;font-style:italic">Onobrychis viciifolia</text><text transform="translate(1078.3 341.96) scale(1 1.08)" text-anchor="end" style="font-size:9.8px">+1205/-4371</text><text transform="translate(1107.4 386.2) scale(1 1.04)" style="font-size:16.75px;font-style:italic">Lotus japonicus</text><text transform="translate(1078.3 380.74) scale(1 1.08)" text-anchor="end" style="font-size:9.8px">+1704/-3451</text><text transform="translate(1107.4 425.6) scale(1 1.04)" style="font-size:16.75px;font-style:italic">Glycine max</text><text transform="translate(1078.3 419.12) scale(1 1.08)" text-anchor="end" style="font-size:9.8px">+10600/-912</text><text transform="translate(1108 462.3) scale(1 1.04)" style="font-size:16.75px;font-style:italic">Vigna radiata</text><text transform="translate(1078.3 456.3) scale(1 1.08)" text-anchor="end" style="font-size:9.8px">+653/-3463</text><text transform="translate(1108.3 499.6) scale(1 1.04)" style="font-size:16.75px;font-style:italic">Cajanus cajan</text><text transform="translate(1078.3 493.38) scale(1 1.08)" text-anchor="end" style="font-size:9.8px">+1228/-3049</text><text transform="translate(1108.2 539) scale(1 1.04)" style="font-size:16.75px;font-style:italic">Lupinus angustifolius</text><text transform="translate(1078.3 532.46) scale(1 1.08)" text-anchor="end" style="font-size:9.8px">+5870/-3591</text><text transform="translate(1107.1 575.6) scale(1 1.04)" style="font-size:16.75px;font-style:italic">Arachis hypogaea</text><text transform="translate(1078.3 569.84) scale(1 1.08)" text-anchor="end" style="font-size:9.8px">+10789/-1328</text><text transform="translate(1107.5 613.75) scale(1 1.04)" style="font-size:16.75px;font-style:italic">Arachis duranensis</text><text transform="translate(1081 621.5) scale(1 1.08)" text-anchor="end" style="font-size:9.8px">+553/-5894</text><text transform="translate(1107.4 650.25) scale(1 1.04)" style="font-size:16.75px;font-style:italic">Prunus persica</text><text transform="translate(1078.3 645.8) scale(1 1.08)" text-anchor="end" style="font-size:9.8px">+788/-7163</text><text transform="translate(1106.4 689.4) scale(1 1.04)" style="font-size:16.75px;font-style:italic">Arabidopsis thaliana</text><text transform="translate(1078.3 683.38) scale(1 1.08)" text-anchor="end" style="font-size:9.8px">+1888/-6655</text><text transform="translate(1105 725.6) scale(1 1.04)" style="font-size:16.75px;font-style:italic">Populus trichocarpa</text><text transform="translate(1078.3 721.36) scale(1 1.08)" text-anchor="end" style="font-size:9.8px">+4908/-3803</text><text transform="translate(1106 765) scale(1 1.04)" style="font-size:16.75px;font-style:italic">Vitis vinifera</text><text transform="translate(1078.3 760.14) scale(1 1.08)" text-anchor="end" style="font-size:9.8px">+1541/-6484</text><text transform="translate(1025 97.4) scale(1 1.08)" text-anchor="end" style="font-size:9.8px">+694/-415</text><text transform="translate(1053.7 103.4) scale(1 1.08)" style="font-size:12.4px">6.5 [4, 9.8]</text><text transform="translate(1001.3 124.2) scale(1 1.08)" text-anchor="end" style="font-size:9.8px">+2073/-721</text><text transform="translate(1031.5 140.7) scale(1 1.08)" style="font-size:12.4px">8.8 [6, 12.5]</text><text transform="translate(1002 210.7) scale(1 1.08)" text-anchor="end" style="font-size:9.8px">+888/-886</text><text transform="translate(1029.3 217.2) scale(1 1.08)" style="font-size:12.4px">9.3 [5.5, 14]</text><text transform="translate(900 169) scale(1 1.08)" text-anchor="end" style="font-size:9.8px">+389/-22</text><text transform="translate(926 174.4) scale(1 1.08)" style="font-size:12.4px">22.1 [18, 26]</text><text transform="translate(876 218) scale(1 1.08)" text-anchor="end" style="font-size:9.8px">+605/-95</text><text transform="translate(905.3 225.7) scale(1 1.08)" style="font-size:12.4px">24.8 [20.9, 28.5]</text><text transform="translate(840.5 246.7) scale(1 1.08)" text-anchor="end" style="font-size:9.8px">+316/-349</text><text transform="translate(740.8 259.2) scale(1 1.08)" style="font-size:12.4px">30.2 [27.6, 33.2]</text><text transform="translate(781.9 288) scale(1 1.08)" text-anchor="end" style="font-size:9.8px">+173/-713</text><text transform="translate(694.7 300.3) scale(1 1.08)" style="font-size:12.4px">37.6 [34, 41.6]</text><text transform="translate(728 328) scale(1 1.08)" text-anchor="end" style="font-size:9.8px">+56/-102</text><text transform="translate(628.8 339.7) scale(1 1.08)" style="font-size:12.4px">44.3 [40.5, 48.2]</text><text transform="translate(883.5 438) scale(1 1.08)" text-anchor="end" style="font-size:9.8px">+20/-8</text><text transform="translate(912.3 444.1) scale(1 1.08)" style="font-size:12.4px">23.9 [15.8, 32.9]</text><text transform="translate(856.4 465.1) scale(1 1.08)" text-anchor="end" style="font-size:9.8px">+1773/-1142</text><text transform="translate(883.5 474) scale(1 1.08)" style="font-size:12.4px">27.2 [19.1, 36.3]</text><text transform="translate(681.3 404) scale(1 1.08)" text-anchor="end" style="font-size:9.8px">+40/-51</text><text transform="translate(715.2 410.4) scale(1 1.08)" style="font-size:12.4px">48.2 [44.8, 51.9]</text><text transform="translate(646.7 468) scale(1 1.08)" text-anchor="end" style="font-size:9.8px">+4/-18</text><text transform="translate(679.3 480.4) scale(1 1.08)" style="font-size:12.4px">52.4 [48.7, 55.9]</text><text transform="translate(1059.5 588.9) scale(1 1.08)" text-anchor="end" style="font-size:9.8px">+4727/-1982</text><text transform="translate(1088.4 595.2) scale(1 1.08)" style="font-size:12.4px">2.1 [1.2, 3.7]</text><text transform="translate(631.6 514.9) scale(1 1.08)" text-anchor="end" style="font-size:9.8px">+1037/-1048</text><text transform="translate(556.1 526) scale(1 1.08)" style="font-size:12.4px">55.6 [52, 59]</text><text transform="translate(274.7 586.6) scale(1 1.08)" text-anchor="end" style="font-size:9.8px">+23/-28</text><text transform="translate(300.5 593.2) scale(1 1.08)" style="font-size:12.4px">99.1 [89.8, 108.1]</text><text transform="translate(252.5 702.6) scale(1 1.08)" text-anchor="end" style="font-size:9.8px">+6/-10</text><text transform="translate(276.8 707.9) scale(1 1.08)" style="font-size:12.4px">102 [91, 110.9]</text><text transform="translate(200.2 644.3) scale(1 1.08)" text-anchor="end" style="font-size:9.8px">+0/-1</text><text transform="translate(223.5 658.5) scale(1 1.08)" style="font-size:12.4px">108.3 [99.4, 115.6]</text><text transform="translate(182.1 723.1) scale(1 1.08)" style="font-size:12.4px">112 [107, 117]</text><text transform="translate(1276.9 456.4) scale(1 1.04)" style="font-size:22.6px">Phaseoleae</text><text transform="translate(1276.7 534.9) scale(1 1.04)" style="font-size:22.6px">Genisteae</text><text transform="translate(1276.9 595.1) scale(1 1.04)" style="font-size:22.6px">Dalbergieae</text><text transform="translate(1336.2 215.2) rotate(-90) scale(1 1.04)" text-anchor="middle" style="font-size:24.1px">Hologalegina</text><text transform="translate(1430.3 334.3) rotate(-90) scale(1 1.04)" text-anchor="middle" style="font-size:23px;font-weight:bold">Fabales</text><text transform="translate(1430 702.3) rotate(-90) scale(1 1.04)" text-anchor="middle" style="font-size:22.9px;font-weight:bold">non-Fabales</text><text transform="translate(473.9 525.8) scale(1 1.04)" style="font-size:21px">PWGD</text><text transform="translate(132.6 698.5) rotate(-44.5) scale(1 1.04)" style="font-size:20.5px">&#947;-WGT</text><text transform="translate(4.1 52)" style="font-size:60px">a</text><text transform="translate(1088.3 812.2) scale(1 1.08)" text-anchor="middle" fill="#4d4d4d" style="font-size:27.8px">0</text><text transform="translate(886.4 812.2) scale(1 1.08)" text-anchor="middle" fill="#4d4d4d" style="font-size:27.8px">25</text><text transform="translate(683.7 812.2) scale(1 1.08)" text-anchor="middle" fill="#4d4d4d" style="font-size:27.8px">50</text><text transform="translate(481 812.2) scale(1 1.08)" text-anchor="middle" fill="#4d4d4d" style="font-size:27.8px">75</text><text transform="translate(278.3 812.2) scale(1 1.08)" text-anchor="middle" fill="#4d4d4d" style="font-size:27.8px">100</text><text transform="translate(667.6 856) scale(1 1.04)" text-anchor="middle" style="font-size:28.5px">Mya</text><text transform="translate(280 1049.5) scale(1 1.08)" text-anchor="middle" style="font-size:21.5px">2685</text><text transform="translate(416.7 1048.1) scale(1 1.08)" text-anchor="middle" style="font-size:21.5px">333</text><text transform="translate(233.3 1102.7) scale(1 1.08)" text-anchor="middle" style="font-size:21.5px">300</text><text transform="translate(343 1102.8) scale(1 1.08)" text-anchor="middle" style="font-size:21.5px">211</text><text transform="translate(451.7 1100.4) scale(1 1.08)" text-anchor="middle" style="font-size:21.5px">168</text><text transform="translate(150.3 1155.4) scale(1 1.08)" text-anchor="middle" style="font-size:21.5px">560</text><text transform="translate(282.8 1155.4) scale(1 1.08)" text-anchor="middle" style="font-size:21.5px">218</text><text transform="translate(408.3 1157.8) scale(1 1.08)" text-anchor="middle" style="font-size:21.5px">311</text><text transform="translate(546 1155.4) scale(1 1.08)" text-anchor="middle" style="font-size:21.5px">534</text><text transform="translate(346.2 1225.4) scale(1 1.08)" text-anchor="middle" style="font-size:21.5px">11257</text><text transform="translate(231.5 1262.8) scale(1 1.08)" text-anchor="middle" style="font-size:21.5px">108</text><text transform="translate(301 1276.8) scale(1 1.08)" text-anchor="middle" style="font-size:21.5px">1681</text><text transform="translate(394.3 1276.8) scale(1 1.08)" text-anchor="middle" style="font-size:21.5px">670</text><text transform="translate(461 1262.8) scale(1 1.08)" text-anchor="middle" style="font-size:21.5px">213</text><text transform="translate(344 1342.1) scale(1 1.08)" text-anchor="middle" style="font-size:21.5px">298</text><text transform="translate(1.2 1030.7) scale(1 1.04)" fill="#E31A1C" style="font-size:28.3px;font-style:italic;font-weight:bold">C. arietinum</text><text transform="translate(176.2 981.2) scale(1 1.04)" fill="#F3A119" style="font-size:28.3px;font-style:italic;font-weight:bold">M. sativa</text><text transform="translate(385.4 980.9) scale(1 1.04)" fill="#6AB730" style="font-size:28.3px;font-style:italic;font-weight:bold">O. viciifolia</text><text transform="translate(509 1031.5) scale(1 1.04)" fill="#1A4AA0" style="font-size:28.3px;font-style:italic;font-weight:bold">L. japonicus</text><text transform="translate(1.8 952.3) scale(1 1.01)" style="font-size:60px">b</text><text transform="translate(716 950)" style="font-size:60px">c</text><text transform="translate(838.3 1339.8) scale(1 1.08)" text-anchor="end" fill="#4d4d4d" style="font-size:28.5px">0.0</text><text transform="translate(838.3 1248.35) scale(1 1.08)" text-anchor="end" fill="#4d4d4d" style="font-size:28.5px">0.5</text><text transform="translate(838.3 1156.9) scale(1 1.08)" text-anchor="end" fill="#4d4d4d" style="font-size:28.5px">1.0</text><text transform="translate(838.3 1065.45) scale(1 1.08)" text-anchor="end" fill="#4d4d4d" style="font-size:28.5px">1.5</text><text transform="translate(838.3 974) scale(1 1.08)" text-anchor="end" fill="#4d4d4d" style="font-size:28.5px">2.0</text><text transform="translate(845 1378.6) scale(1 1.08)" text-anchor="middle" fill="#4d4d4d" style="font-size:28.5px">0</text><text transform="translate(1020.5 1378.6) scale(1 1.08)" text-anchor="middle" fill="#4d4d4d" style="font-size:28.5px">2</text><text transform="translate(1196 1378.6) scale(1 1.08)" text-anchor="middle" fill="#4d4d4d" style="font-size:28.5px">4</text><text transform="translate(1371.5 1378.6) scale(1 1.08)" text-anchor="middle" fill="#4d4d4d" style="font-size:28.5px">6</text><text transform="translate(1180.5 1432) scale(1 1.04)" text-anchor="middle" style="font-size:28.5px">Insertion Time (Mya)</text><text transform="translate(757.8 1129.2) rotate(-90) scale(1 1.04)" text-anchor="middle" style="font-size:28.4px">Density</text><text transform="translate(1168.6 970.9) scale(1 1.04)" style="font-size:28.3px">Species</text><text transform="translate(1209.4 1023.2) scale(1 1.04)" style="font-size:28.3px;font-style:italic">C. arietinum</text><text transform="translate(1209.4 1051.1) scale(1 1.04)" style="font-size:28.3px;font-style:italic">C. cajan</text><text transform="translate(1209.4 1079) scale(1 1.04)" style="font-size:28.3px;font-style:italic">M. sativa</text><text transform="translate(1209.4 1106.9) scale(1 1.04)" style="font-size:28.3px;font-style:italic">M. truncatula</text><text transform="translate(1209.4 1134.8) scale(1 1.04)" style="font-size:28.3px;font-style:italic">O. viciifolia</text><text transform="translate(1209.4 1162.7) scale(1 1.04)" style="font-size:28.3px;font-style:italic">V. radiata</text></g>
</svg>
</body></html>
